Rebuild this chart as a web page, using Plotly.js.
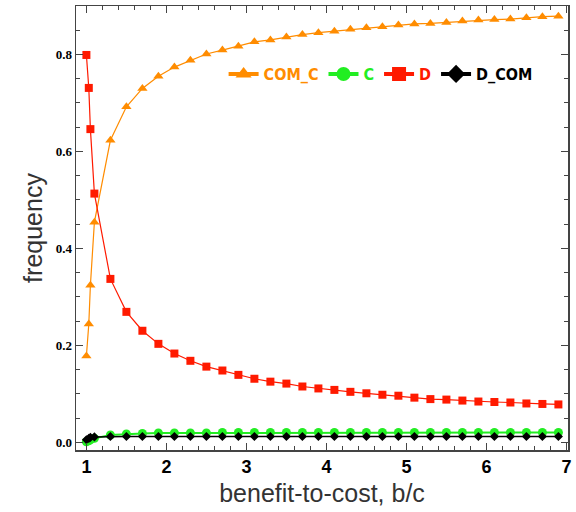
<!DOCTYPE html>
<html>
<head>
<meta charset="utf-8">
<script src="https://cdn.plot.ly/plotly-3.0.1.min.js"></script>
<style>html,body{margin:0;padding:0;background:#fff;}#chart{width:576px;height:512px;}</style>
</head>
<body>
<div id="chart"></div>
<script>
// benefit-to-cost ratio values
const bc = [1.0, 1.03, 1.05, 1.1, 1.3, 1.5, 1.7, 1.9, 2.1, 2.3, 2.5, 2.7, 2.9, 3.1, 3.3, 3.5, 3.7, 3.9, 4.1, 4.3, 4.5, 4.7, 4.9, 5.1, 5.3, 5.5, 5.7, 5.9, 6.1, 6.3, 6.5, 6.7, 6.9];
const seriesNames = ["COM_C", "C", "D", "D_COM"];
const comC = [0.178, 0.244, 0.324, 0.454, 0.623, 0.692, 0.730, 0.755, 0.774, 0.788, 0.801, 0.809, 0.817, 0.826, 0.830, 0.836, 0.841, 0.845, 0.848, 0.852, 0.855, 0.857, 0.861, 0.863, 0.864, 0.866, 0.869, 0.871, 0.872, 0.873, 0.876, 0.878, 0.879];
const cFreq = [0.001, 0.003, 0.005, 0.008, 0.015, 0.017, 0.018, 0.019, 0.019, 0.019, 0.019, 0.020, 0.020, 0.020, 0.020, 0.020, 0.020, 0.020, 0.020, 0.020, 0.020, 0.020, 0.020, 0.020, 0.020, 0.020, 0.020, 0.020, 0.020, 0.020, 0.020, 0.020, 0.020];
const dFreq = [0.799, 0.731, 0.646, 0.513, 0.337, 0.269, 0.230, 0.203, 0.183, 0.168, 0.156, 0.148, 0.139, 0.131, 0.125, 0.121, 0.115, 0.111, 0.108, 0.104, 0.101, 0.098, 0.096, 0.092, 0.089, 0.088, 0.086, 0.084, 0.083, 0.082, 0.080, 0.079, 0.078];
const dCom = [0.005, 0.008, 0.010, 0.011, 0.012, 0.012, 0.012, 0.012, 0.012, 0.012, 0.012, 0.012, 0.012, 0.012, 0.012, 0.012, 0.012, 0.012, 0.012, 0.012, 0.012, 0.012, 0.012, 0.012, 0.012, 0.012, 0.012, 0.012, 0.012, 0.012, 0.012, 0.012, 0.012];
const xTicks = [1, 2, 3, 4, 5, 6, 7];
const yTicks = [0.0, 0.2, 0.4, 0.6, 0.8];

const colors = ["#FF8C00", "#22EE22", "#FF1A00", "#000000"];
const symbols = ["triangle-up", "circle", "square", "diamond"];
const sizes = [9, 9, 8, 7];
const widths = [1.2, 2, 1.2, 1.5];
const ys = [comC, cFreq, dFreq, dCom];
const order = [1, 3, 0, 2]; // drawing order

const traces = [];
order.forEach(i => {
  traces.push({
    x: bc, y: ys[i], type: "scatter", mode: "lines+markers",
    name: seriesNames[i], showlegend: false,
    line: {color: colors[i], width: widths[i]},
    marker: {color: colors[i], symbol: symbols[i], size: sizes[i], line: {width: 0}}
  });
});
// legend-only entries (thick lines, large markers)
[0, 1, 2, 3].forEach(i => {
  traces.push({
    x: [null], y: [null], type: "scatter", mode: "lines+markers",
    name: '<span style="color:' + colors[i] + '">' + seriesNames[i] + '</span>',
    showlegend: true,
    line: {color: colors[i], width: 4},
    marker: {color: colors[i], symbol: symbols[i], size: 14, line: {width: 0}}
  });
});

const axisCommon = {
  automargin: false,
  showline: true, linecolor: "#444", linewidth: 1.5, mirror: "allticks",
  ticks: "inside", ticklen: 7, tickwidth: 1.2, tickcolor: "#444",
  showgrid: false, zeroline: false
};

const layout = {
  width: 576, height: 512,
  margin: {l: 76, r: 8, t: 6, b: 62, autoexpand: false},
  paper_bgcolor: "#fff", plot_bgcolor: "#fff",
  showlegend: true,
  legend: {
    orientation: "h", x: 0.3, y: 0.885, xanchor: "left", yanchor: "top",
    bgcolor: "rgba(0,0,0,0)", itemwidth: 30, tracegroupgap: 0,
    font: {family: "DejaVu Sans Condensed, DejaVu Sans", size: 16, weight: "bold"}
  },
  xaxis: Object.assign({}, axisCommon, {
    range: [0.87, 7.02], tickmode: "array", tickvals: xTicks, ticktext: xTicks.map(String),
    tickfont: {family: "Liberation Sans, Arial", size: 18, color: "#000", weight: "bold"},
    minor: {dtick: 0.2, tick0: 1, ticks: "inside", ticklen: 4, tickwidth: 1, tickcolor: "#444", showgrid: false},
    title: {text: "benefit-to-cost, b/c", font: {family: "Liberation Sans, Arial", size: 25, color: "#333"}, standoff: 8}
  }),
  yaxis: Object.assign({}, axisCommon, {
    range: [-0.016, 0.9], tickmode: "array", tickvals: yTicks, ticktext: yTicks.map(v => v.toFixed(1)),
    tickfont: {family: "Liberation Serif, Times New Roman", size: 13, color: "#000", weight: "bold"},
    minor: {dtick: 0.05, tick0: 0, ticks: "inside", ticklen: 4, tickwidth: 1, tickcolor: "#444", showgrid: false},
    title: {text: "frequency", font: {family: "Liberation Sans, Arial", size: 25, color: "#333"}, standoff: 6}
  })
};

Plotly.newPlot("chart", traces, layout, {displayModeBar: false, staticPlot: true});
</script>
</body>
</html>
